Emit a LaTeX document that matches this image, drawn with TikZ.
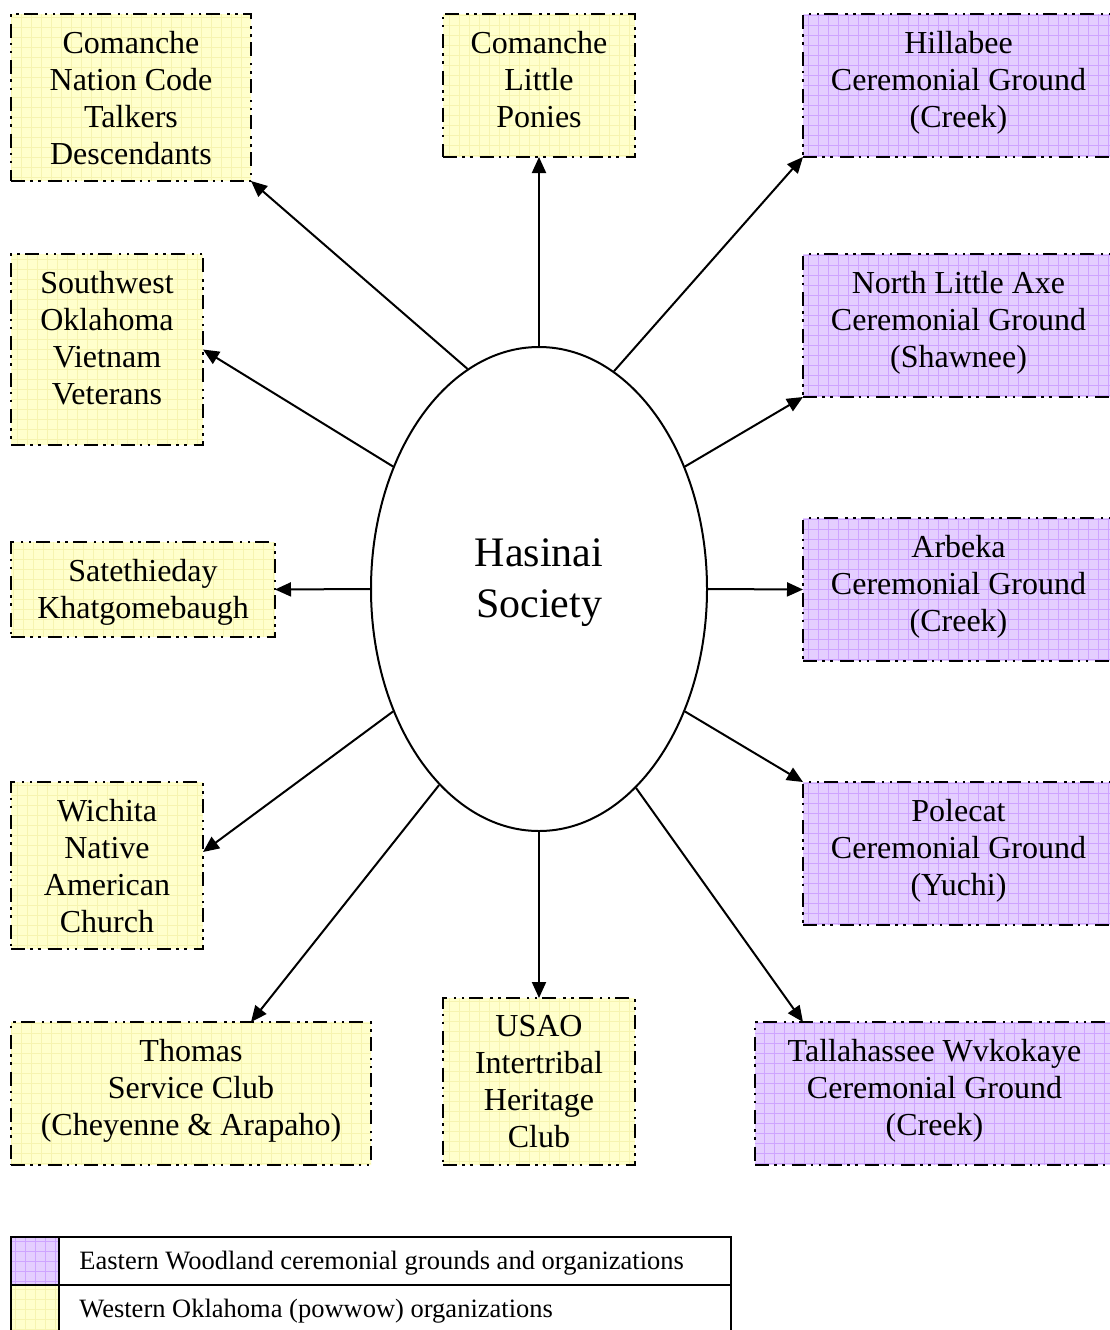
\documentclass[tikz,border=0pt]{standalone}
\usepackage{fontspec}
\setmainfont{Liberation Serif}
\usetikzlibrary{arrows.meta,shapes.geometric,calc}
\definecolor{yfill}{RGB}{255,255,204}
\definecolor{ygrid}{RGB}{246,244,176}
\definecolor{pfill}{RGB}{228,206,255}
\definecolor{pgrid}{RGB}{206,164,255}
\tikzset{
  boxbase/.style={draw, line width=2.2pt, dash pattern=on 14pt off 5pt on 2.5pt off 5.5pt on 2.5pt off 7pt, inner sep=0pt, outer sep=0pt},
  ygridfill/.style={fill=yfill, path picture={\draw[ygrid, solid, line width=0.8pt] (path picture bounding box.south west) grid[step=10pt] (path picture bounding box.north east);}},
  pgridfill/.style={fill=pfill, path picture={\draw[pgrid, solid, line width=0.8pt] (path picture bounding box.south west) grid[step=10pt] (path picture bounding box.north east);}},
  ybox/.style={boxbase, ygridfill},
  pbox/.style={boxbase, pgridfill},
  ycell/.style={draw, line width=1.6pt, inner sep=0pt, ygridfill},
  pcell/.style={draw, line width=1.6pt, inner sep=0pt, pgridfill},
  legrow/.style={draw, line width=1.6pt, inner sep=0pt},
  boxtxt/.style={anchor=north, align=center, inner sep=0pt, font=\fontsize{32}{37}\selectfont},
  legtxt/.style={anchor=west, inner sep=0pt, font=\fontsize{26.5}{30}\selectfont},
  arr/.style={line width=2pt, -{Triangle[length=16pt,width=14pt]}},
}
\begin{document}
\begin{tikzpicture}[x=1pt,y=-1pt]
\useasboundingbox (0,0) rectangle (1110,1330);
\clip (0,0) rectangle (1110,1330);
% boxes
\node[ybox, minimum width=240pt, minimum height=167pt] (ctalk) at (131,97.5) {};
\node[ybox, minimum width=192pt, minimum height=143pt] (ponies) at (539,85.5) {};
\node[pbox, minimum width=311pt, minimum height=143pt] (hill) at (958.5,85.5) {};
\node[ybox, minimum width=192pt, minimum height=191pt] (swok) at (107,349.5) {};
\node[pbox, minimum width=311pt, minimum height=143pt] (axe) at (958.5,325.5) {};
\node[ybox, minimum width=264pt, minimum height=95pt] (sate) at (143,589.5) {};
\node[pbox, minimum width=311pt, minimum height=143pt] (arbeka) at (958.5,589.5) {};
\node[ybox, minimum width=192pt, minimum height=167pt] (wichita) at (107,865.5) {};
\node[pbox, minimum width=311pt, minimum height=143pt] (polecat) at (958.5,853.5) {};
\node[ybox, minimum width=360pt, minimum height=143pt] (thomas) at (191,1093.5) {};
\node[ybox, minimum width=192pt, minimum height=167pt] (usao) at (539,1081.5) {};
\node[pbox, minimum width=359pt, minimum height=143pt] (talla) at (934.5,1093.5) {};
% texts
\node[boxtxt] (ctalkT) at ([yshift=-17pt]ctalk.north) {Comanche\\Nation Code\\Talkers\\Descendants};
\node[boxtxt] (poniesT) at ([yshift=-17pt]ponies.north) {Comanche\\Little\\Ponies};
\node[boxtxt] (hillT) at ([yshift=-17pt]hill.north) {Hillabee\\Ceremonial Ground\\(Creek)};
\node[boxtxt] (swokT) at ([yshift=-17pt]swok.north) {Southwest\\Oklahoma\\Vietnam\\Veterans};
\node[boxtxt] (axeT) at ([yshift=-17pt]axe.north) {North Little Axe\\Ceremonial Ground\\(Shawnee)};
\node[boxtxt] (sateT) at ([yshift=-17pt]sate.north) {Satethieday\\Khatgomebaugh};
\node[boxtxt] (arbekaT) at ([yshift=-17pt]arbeka.north) {Arbeka\\Ceremonial Ground\\(Creek)};
\node[boxtxt] (wichitaT) at ([yshift=-17pt]wichita.north) {Wichita\\Native\\American\\Church};
\node[boxtxt] (polecatT) at ([yshift=-17pt]polecat.north) {Polecat\\Ceremonial Ground\\(Yuchi)};
\node[boxtxt] (thomasT) at ([yshift=-17pt]thomas.north) {Thomas\\Service Club\\(Cheyenne \& Arapaho)};
\node[boxtxt] (usaoT) at ([yshift=-17pt]usao.north) {USAO\\Intertribal\\Heritage\\Club};
\node[boxtxt] (tallaT) at ([yshift=-17pt]talla.north) {Tallahassee Wvkokaye\\Ceremonial Ground\\(Creek)};
% hub
\node[ellipse, draw, line width=2pt, minimum width=336pt, minimum height=484pt, inner sep=0pt] (hub) at (539,589) {};
\node[align=center, inner sep=0pt, font=\fontsize{42}{51}\selectfont] (hubT) at ([yshift=6pt]hub.center) {Hasinai\\Society};
% arrows
\draw[arr] (hub.108.6) -- (ctalk.south east);
\draw[arr] (hub.north) -- (ponies.south);
\draw[arr] (hub.71.4) -- (hill.south west);
\draw[arr] (hub.140) -- (swok.east);
\draw[arr] (hub.40) -- (axe.south west);
\draw[arr] (hub.west) -- (sate.east);
\draw[arr] (hub.east) -- (arbeka.west);
\draw[arr] (hub.220) -- ([yshift=13.5pt]wichita.east);
\draw[arr] (hub.320) -- (polecat.north west);
\draw[arr] (hub.243.3) -- ([xshift=240pt]thomas.north west);
\draw[arr] (hub.south) -- (usao.north);
\draw[arr] (hub.296.7) -- ([xshift=48pt]talla.north west);
% legend
\node[pcell, minimum width=48pt, minimum height=48pt] (legP) at (35,1261) {};
\node[legrow, minimum width=672pt, minimum height=48pt] (legE) at (395,1261) {};
\node[ycell, minimum width=48pt, minimum height=48pt] (legY) at (35,1309) {};
\node[legrow, minimum width=672pt, minimum height=48pt] (legW) at (395,1309) {};
\node[legtxt] (legET) at ([xshift=21pt,yshift=-2pt]legE.west) {Eastern Woodland ceremonial grounds and organizations};
\node[legtxt] (legWT) at ([xshift=21pt,yshift=-2pt]legW.west) {Western Oklahoma (powwow) organizations};
\end{tikzpicture}
\end{document}
